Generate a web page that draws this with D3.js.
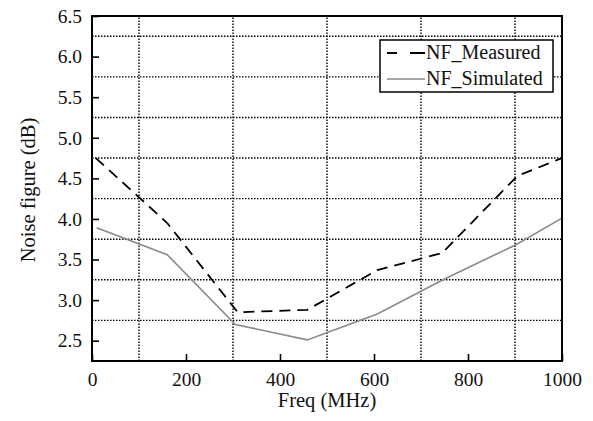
<!DOCTYPE html>
<html>
<head>
<meta charset="utf-8">
<script src="https://cdn.jsdelivr.net/npm/d3@7"></script>
<style>
body { margin: 0; background: #fff; }
</style>
</head>
<body>
<div id="chart"></div>
<script>
// width and height
var w = 593;
var h = 421;
var margin = {top: 16, right: 31, bottom: 60, left: 92};
var serif = "'Liberation Serif', 'Times New Roman', serif";

// data
var measFreq = [8, 160, 310, 458, 607, 745, 905, 1000];
var measNF = [4.75, 3.95, 2.85, 2.88, 3.37, 3.58, 4.53, 4.75];
var simFreq = [10, 160, 305, 458, 607, 750, 901, 1000];
var simNF = [3.89, 3.56, 2.70, 2.51, 2.83, 3.26, 3.68, 4.01];
var xTicks = [0, 200, 400, 600, 800, 1000];
var yTicks = [2.5, 3.0, 3.5, 4.0, 4.5, 5.0, 5.5, 6.0, 6.5];
var xGrid = [100, 300, 500, 700, 900];
var yGrid = [2.75, 3.25, 3.75, 4.25, 4.75, 5.25, 5.75, 6.25];

var measured = measFreq.map(function(f, i){ return [f, measNF[i]]; });
var simulated = simFreq.map(function(f, i){ return [f, simNF[i]]; });

var x = d3.scaleLinear().domain([0, 1000]).range([margin.left, w - margin.right]);
var y = d3.scaleLinear().domain([2.25, 6.5]).range([h - margin.bottom, margin.top]);

var svg = d3.select("#chart")
            .append("svg")
            .attr("width", w)
            .attr("height", h)
            .style("font-family", serif);

// dotted grid
svg.selectAll(".gx")
    .data(xGrid)
    .enter()
    .append("line")
    .attr("x1", function(d){ return x(d); })
    .attr("x2", function(d){ return x(d); })
    .attr("y1", y(2.25))
    .attr("y2", y(6.5))
    .attr("stroke", "#000")
    .attr("stroke-width", 1.4)
    .attr("stroke-dasharray", "1.5,1.5");

svg.selectAll(".gy")
    .data(yGrid)
    .enter()
    .append("line")
    .attr("x1", x(0))
    .attr("x2", x(1000))
    .attr("y1", function(d){ return y(d); })
    .attr("y2", function(d){ return y(d); })
    .attr("stroke", "#000")
    .attr("stroke-width", 1.4)
    .attr("stroke-dasharray", "1.5,1.5");

// axes with inward ticks
var xAxis = svg.append("g")
    .attr("transform", "translate(0," + y(2.25) + ")")
    .call(d3.axisBottom(x).tickValues(xTicks).tickSize(-7).tickPadding(11).tickFormat(d3.format("d")));
var yAxis = svg.append("g")
    .attr("transform", "translate(" + x(0) + ",0)")
    .call(d3.axisLeft(y).tickValues(yTicks).tickSize(-7).tickPadding(10).tickFormat(d3.format(".1f")));

[xAxis, yAxis].forEach(function(g){
    g.attr("font-family", null);
    g.select(".domain").remove();
    g.selectAll(".tick line").attr("stroke", "#000").attr("stroke-width", 1.6);
    g.selectAll(".tick text")
        .style("font-family", serif)
        .style("font-size", "19.5px")
        .attr("fill", "#111");
});

// lines
var line = d3.line()
    .x(function(d){ return x(d[0]); })
    .y(function(d){ return y(d[1]); });

svg.append("path")
    .datum(simulated)
    .attr("d", line)
    .attr("fill", "none")
    .attr("stroke", "#8a8a8a")
    .attr("stroke-width", 1.6);

svg.append("path")
    .datum(measured)
    .attr("d", line)
    .attr("fill", "none")
    .attr("stroke", "#000")
    .attr("stroke-width", 1.8)
    .attr("stroke-dasharray", "11,7");

// frame
svg.append("rect")
    .attr("x", x(0))
    .attr("y", y(6.5))
    .attr("width", x(1000) - x(0))
    .attr("height", y(2.25) - y(6.5))
    .attr("fill", "none")
    .attr("stroke", "#000")
    .attr("stroke-width", 2);

// legend
var lg = svg.append("g").attr("transform", "translate(380,40)");
lg.append("rect")
    .attr("width", 173)
    .attr("height", 52)
    .attr("fill", "#fff")
    .attr("stroke", "#000")
    .attr("stroke-width", 1.5);
lg.append("line")
    .attr("x1", 7).attr("x2", 45).attr("y1", 13).attr("y2", 13)
    .attr("stroke", "#000").attr("stroke-width", 1.8)
    .attr("stroke-dasharray", "10,13,15");
lg.append("line")
    .attr("x1", 7).attr("x2", 45).attr("y1", 39).attr("y2", 39)
    .attr("stroke", "#8a8a8a").attr("stroke-width", 1.6);
lg.append("text").attr("x", 46).attr("y", 19)
    .style("font-family", serif).style("font-size", "20px").attr("fill", "#111").text("NF_Measured");
lg.append("text").attr("x", 46).attr("y", 45)
    .style("font-family", serif).style("font-size", "20px").attr("fill", "#111").text("NF_Simulated");

// axis titles
svg.append("text")
    .attr("x", x(500))
    .attr("y", 407)
    .attr("text-anchor", "middle")
    .style("font-family", serif)
    .style("font-size", "20.5px")
    .attr("fill", "#111")
    .text("Freq (MHz)");

svg.append("text")
    .attr("transform", "translate(35,190) rotate(-90)")
    .attr("text-anchor", "middle")
    .style("font-family", serif)
    .style("font-size", "20.5px")
    .attr("fill", "#111")
    .text("Noise figure (dB)");
</script>
</body>
</html>
